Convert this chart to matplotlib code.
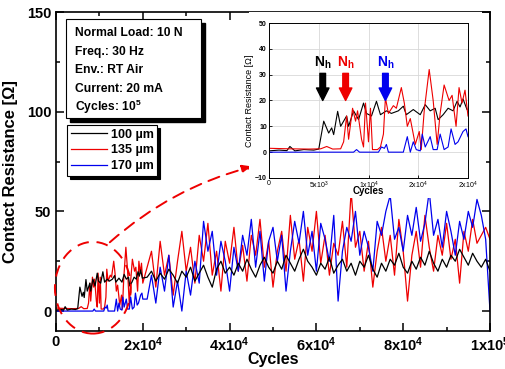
import numpy as np
import matplotlib
matplotlib.use("Agg")
import matplotlib.pyplot as plt
from matplotlib.patches import Ellipse, Rectangle
from matplotlib.lines import Line2D

plt.rcParams['font.family'] = ['Liberation Sans', 'DejaVu Sans']
plt.rcParams['mathtext.fontset'] = 'custom'
plt.rcParams['mathtext.rm'] = 'Liberation Sans'
plt.rcParams['mathtext.bf'] = 'Liberation Sans:bold'
plt.rcParams['mathtext.it'] = 'Liberation Sans:italic'

# ---- data (cycles in units of 1e3) ----
# first 2x10^4 cycles
x_100_early = [0, 1, 1.8, 2.1, 2.6, 3.5, 4.5, 5.0, 5.5, 6.0, 6.3, 6.5, 6.9, 7.2, 7.8, 8.0, 8.5, 9.0,
               9.5, 9.8, 10.3, 10.8, 11.2, 11.8, 12.3, 13.0, 13.5, 13.8, 14.5, 15.2, 15.7, 16.2, 16.7,
               17.0, 17.5, 18.0, 18.5, 18.9, 19.2, 19.5, 19.9]
r_100_early = [0.5, 0.8, 0.6, 2.2, 0.5, 1.0, 0.8, 1.2, 12, 7.4, 9.4, 6.8, 15.8, 10, 14, 10, 16, 12.6,
               19, 15, 14, 19.7, 14.5, 16, 15, 16, 17.8, 14.5, 16.5, 14.5, 18.4, 16, 17,
               12.6, 14.5, 17, 16, 19.7, 17.5, 20.6, 16.5]

x_135_early = [0, 2, 4, 5.2, 5.8, 6.4, 7.2, 7.5, 7.8, 8.0, 8.4, 8.7, 8.9, 9.3, 9.5, 9.7, 10.0, 10.2,
               10.4, 10.9, 11.2, 11.5, 11.7, 12.0, 12.5, 12.8, 13.3, 13.6, 13.9, 14.2, 14.7, 15.1,
               15.3, 15.6, 16.1, 16.5, 16.9, 17.2, 17.6, 18.1, 18.4, 18.8, 19.1, 19.4, 19.7, 20.0]
r_135_early = [1.5, 1.3, 1.2, 1.3, 2.2, 1.2, 1.3, 4, 14, 5, 17, 12, 16, 5, 2, 19, 4, 17,
               1, 1, 2, 7, 21, 15, 18, 17, 25, 19, 10, 13, 3, 8,
               1, 16, 32, 20, 3, 15, 26, 20, 22, 10, 25, 19, 24, 14]

x_170_early = [0, 8.5, 8.8, 9.1, 11.0, 11.3, 11.6, 11.8, 12.0, 13.5, 13.9, 14.2, 14.5, 14.8, 15.2,
               15.4, 15.7, 16.2, 16.5, 16.9, 17.2, 17.6, 18.0, 18.3, 18.7, 19.0, 19.5, 19.8, 20.0]
r_170_early = [0, 0, 1, 0, 0, 2, 1.5, 3, 0, 0, 6, 0, 4, 1, 0.5,
               7, 2, 6, 1, 1, 7, 1, 2, 9, 3, 4, 8, 9, 6]

# 2.1x10^4 ... 1x10^5 cycles
x_late = np.arange(21, 101)
r_100_late = [17, 20, 15, 19, 16, 21, 18, 14, 20, 17, 22, 15, 19, 23, 17, 12, 21, 25, 19, 22,
              18, 24, 20, 26, 21, 17, 23, 27, 22, 19, 25, 21, 28, 24, 20, 26, 31, 25, 22, 18,
              24, 21, 27, 19, 23, 26, 20, 24, 18, 25, 22, 28, 21, 17, 24, 20, 26, 23, 29, 22,
              19, 25, 21, 27, 23, 30, 24, 20, 26, 22, 28, 25, 31, 27, 23, 29, 25, 22, 26, 20]
r_135_late = [22, 30, 12, 35, 18, 28, 8, 25, 40, 20, 32, 14, 38, 25, 44, 18, 30, 10, 35, 24,
              42, 20, 33, 15, 38, 28, 46, 22, 35, 12, 30, 40, 20, 48, 26, 36, 15, 42, 30, 50,
              24, 38, 18, 34, 28, 45, 22, 60, 32, 40, 20, 35, 12, 30, 42, 25, 38, 18, 46, 30,
              5, 28, 40, 22, 48, 32, 20, 38, 28, 44, 26, 36, 14, 40, 30, 46, 34, 38, 42, 36]
r_170_late = [6, 18, 4, 22, 10, 28, 2, 15, 0, 20, 8, 25, 14, 45, 30, 40, 18, 35, 25, 10,
              32, 20, 38, 28, 46, 22, 40, 15, 35, 42, 25, 38, 10, 30, 45, 34, 50, 28, 40, 20,
              44, 36, 25, 48, 5, 30, 42, 35, 50, 28, 40, 32, 20, 45, 38, 50, 58, 36, 42, 30,
              48, 38, 52, 35, 44, 60, 38, 46, 32, 50, 40, 28, 45, 36, 50, 42, 56, 48, 36, 0]

labels = ['100 \u00b5m', '135 \u00b5m', '170 \u00b5m']
colors = ['black', '#ee0000', '#0000ee']

series = [
    (np.array(x_100_early + list(x_late)) * 1e3, np.array(r_100_early + r_100_late)),
    (np.array(x_135_early + list(x_late)) * 1e3, np.array(r_135_early + r_135_late)),
    (np.array(x_170_early + list(x_late)) * 1e3, np.array(r_170_early + r_170_late)),
]

info_lines = ['Normal Load: 10 N', 'Freq.: 30 Hz', 'Env.: RT Air', 'Current: 20 mA',
              r'Cycles: 10$^\mathbf{5}$']

W, H = 506, 369
fig = plt.figure(figsize=(W / 100, H / 100), dpi=100)


def fx(px):
    return px / W


def fy(py):
    return 1 - py / H


ax = fig.add_axes([fx(56), fy(331), fx(490) - fx(56), fy(12) - fy(331)])

for (x, y), c in zip([series[1], series[2], series[0]], [colors[1], colors[2], colors[0]]):
    ax.plot(x, y, color=c, lw=0.9)

ax.set_xlim(0, 1e5)
ax.set_ylim(-10, 150)
ax.set_xticks([0, 2e4, 4e4, 6e4, 8e4, 1e5])
ax.set_xticklabels(['0', r'$\mathbf{2x10^4}$', r'$\mathbf{4x10^4}$', r'$\mathbf{6x10^4}$',
                    r'$\mathbf{8x10^4}$', r'$\mathbf{1x10^5}$'])
ax.set_xticks(np.arange(1e4, 1e5, 2e4), minor=True)
ax.set_yticks([0, 50, 100, 150])
ax.set_yticks([25, 75, 125], minor=True)
ax.tick_params(which='both', direction='in', top=True, right=True, labelsize=10.5, width=1.1)
ax.tick_params(which='major', length=6)
ax.tick_params(which='minor', length=3)
ax.tick_params(axis='x', pad=3)
for lab in ax.get_xticklabels() + ax.get_yticklabels():
    lab.set_fontweight('bold')
for s in ax.spines.values():
    s.set_linewidth(1.2)
ax.set_xlabel('Cycles', fontsize=11.5, fontweight='bold', labelpad=-1)
ax.set_ylabel('Contact Resistance [\u03a9]', fontsize=12, fontweight='bold', labelpad=6)

# dashed ellipse and arrow
ax.add_patch(Ellipse((8500, 11.7), 17500, 46, fill=False, ec='#ee0000', ls=(0, (6, 4)),
                     lw=1.4, clip_on=False, zorder=5))
ax.annotate('', xy=(45300, 72.5), xytext=(12400, 34.5),
            arrowprops=dict(arrowstyle='-|>,head_length=0.6,head_width=0.25', color='#ee0000',
                            ls=(0, (6, 4)), lw=1.4, connectionstyle='arc3,rad=-0.12',
                            shrinkA=0, shrinkB=0), zorder=5)


# info box with shadow
def shadow_box(x0, y0, x1, y1, off=4):
    fig.patches.append(Rectangle((fx(x0 + off), fy(y1 + off)), fx(x1 - x0), fy(y0) - fy(y1),
                                 transform=fig.transFigure, fc='black', ec='black', zorder=6))
    fig.patches.append(Rectangle((fx(x0), fy(y1)), fx(x1 - x0), fy(y0) - fy(y1),
                                 transform=fig.transFigure, fc='white', ec='black', lw=0.8,
                                 zorder=7))


shadow_box(66, 19, 201, 118)
for i, t in enumerate(info_lines):
    fig.text(fx(75), fy(33 + i * 18.5), t, fontsize=8.7, fontweight='bold', va='center',
             zorder=8)

handles = [Line2D([], [], color=c, lw=0.9) for c in colors]
leg = ax.legend(handles, labels, loc='upper left', bbox_to_anchor=(fx(67), fy(125)),
                bbox_transform=fig.transFigure, borderaxespad=0, fancybox=False,
                edgecolor='black', framealpha=1, shadow={'color': 'black', 'alpha': 1},
                prop={'weight': 'bold', 'size': 9}, handlelength=2.9, handletextpad=0.3,
                borderpad=0.3, labelspacing=0.3)
leg.get_frame().set_linewidth(0.8)
leg.set_zorder(8)

# inset
axi = fig.add_axes([fx(269), fy(178), fx(468) - fx(269), fy(23) - fy(178)], zorder=10)
axi.add_patch(Rectangle((-0.1, -0.13), 1.17, 1.2, transform=axi.transAxes, fc='white',
                        ec='none', clip_on=False, zorder=-5))
for (x, y), c in zip(series, colors):
    m = x <= 2e4
    axi.plot(x[m], y[m], color=c, lw=0.8)
axi.set_xlim(0, 2e4)
axi.set_ylim(-10, 50)
axi.set_xticks([0, 5e3, 1e4, 1.5e4, 2e4])
axi.set_xticklabels(['0', r'5x10$^3$', r'1x10$^4$', r'2x10$^4$', r'2x10$^4$'])
axi.set_yticks(np.arange(-10, 51, 10))
axi.grid(True, color='#d8d8d8', lw=0.6)
axi.tick_params(direction='in', labelsize=5, length=2, pad=1.5, width=0.6)
for lab in axi.get_yticklabels():
    lab.set_fontweight('bold')
for s in axi.spines.values():
    s.set_linewidth(0.7)
axi.set_xlabel('Cycles', fontsize=7, fontweight='bold', labelpad=-4)
axi.set_ylabel('Contact Resistance [\u03a9]', fontsize=6.5, labelpad=1)

for xa, c in zip([5.4e3, 7.7e3, 11.7e3], colors):
    axi.annotate('', xy=(xa, 20), xytext=(xa, 30.5),
                 arrowprops=dict(arrowstyle='simple,head_width=1.0,head_length=1.0,tail_width=0.45',
                                 color=c, shrinkA=0, shrinkB=0, mutation_scale=9))
    axi.text(xa, 34.5, r'$\mathbf{N_h}$', color=c, fontsize=10, ha='center', va='center')

fig.savefig('out.png', dpi=100)
